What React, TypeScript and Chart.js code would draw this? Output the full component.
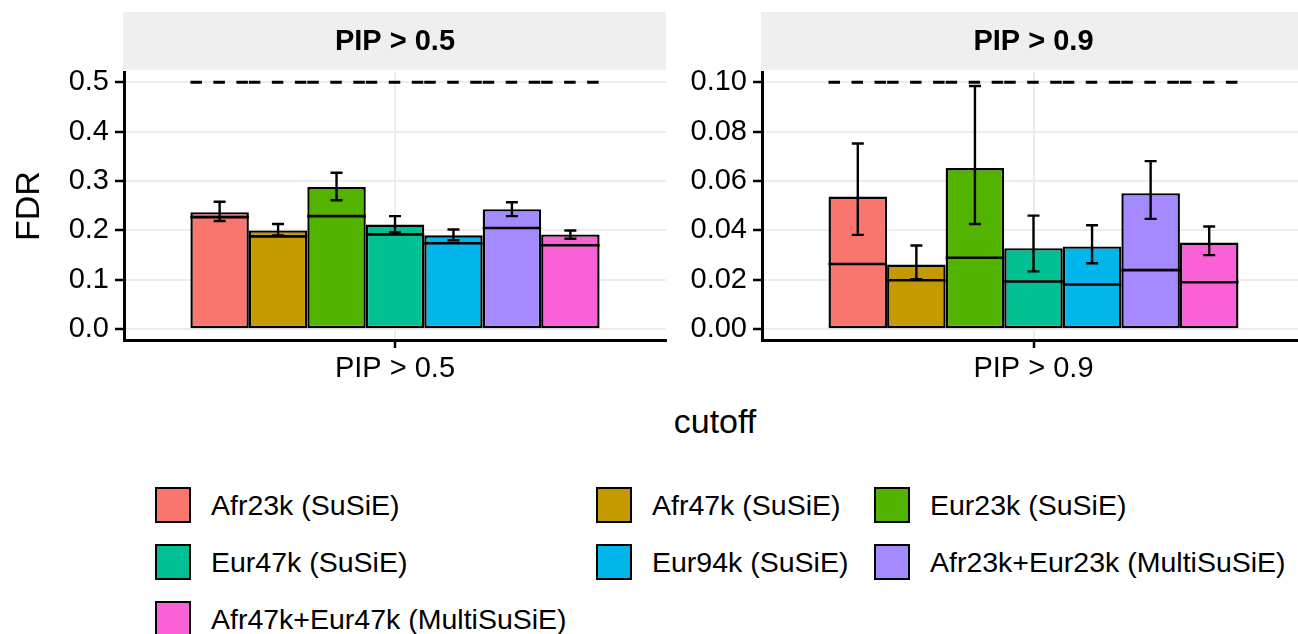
import React, { useEffect, useRef } from "react";
import { Chart, registerables } from "chart.js";

Chart.register(...registerables);

// ---------- data ----------
const methods = [
  "Afr23k (SuSiE)",
  "Afr47k (SuSiE)",
  "Eur23k (SuSiE)",
  "Eur47k (SuSiE)",
  "Eur94k (SuSiE)",
  "Afr23k+Eur23k (MultiSuSiE)",
  "Afr47k+Eur47k (MultiSuSiE)",
];
const colors = ["#F8766D", "#C49A00", "#53B400", "#00C094", "#00B6EB", "#A58AFF", "#FB61D7"];

const cutoff05 = ["PIP > 0.5"];
const fdr05 = [0.237, 0.2, 0.288, 0.212, 0.19, 0.243, 0.192];
const inner05 = [0.227, 0.188, 0.229, 0.192, 0.174, 0.205, 0.17];
const lo05 = [0.219, 0.19, 0.261, 0.196, 0.18, 0.229, 0.183];
const hi05 = [0.258, 0.213, 0.317, 0.229, 0.202, 0.257, 0.2];
const target05 = 0.5;
const ticks05 = [0, 0.1, 0.2, 0.3, 0.4, 0.5];

const cutoff09 = ["PIP > 0.9"];
const fdr09 = [0.0537, 0.0262, 0.0653, 0.0328, 0.0335, 0.0551, 0.0351];
const inner09 = [0.0264, 0.0198, 0.0289, 0.0193, 0.0181, 0.0239, 0.019];
const lo09 = [0.0382, 0.0202, 0.0426, 0.0234, 0.0267, 0.0447, 0.03];
const hi09 = [0.0752, 0.0339, 0.0985, 0.046, 0.0421, 0.0681, 0.0416];
const target09 = 0.1;
const ticks09 = [0, 0.02, 0.04, 0.06, 0.08, 0.1];

const FONT = "'Liberation Sans', Arial, Helvetica, sans-serif";

const facetPlugin = {
  id: "facetExtras",
  beforeDraw(chart: any, _args: any, opts: any) {
    const { ctx, chartArea } = chart;
    ctx.save();
    ctx.fillStyle = "#EFEFEF";
    ctx.fillRect(chartArea.left - 1, 12, chartArea.right - chartArea.left + 1, 58);
    ctx.fillStyle = "#000";
    ctx.font = `bold 29px ${FONT}`;
    ctx.textAlign = "center";
    ctx.textBaseline = "middle";
    ctx.fillText(opts.strip, (chartArea.left + chartArea.right) / 2, 42);
    ctx.restore();
  },
  afterDatasetsDraw(chart: any, _args: any, opts: any) {
    const { ctx } = chart;
    const y = chart.scales.y;
    ctx.save();
    ctx.strokeStyle = "#000";
    ctx.lineCap = "butt";
    chart.data.datasets.forEach((_ds: any, i: number) => {
      const bar = chart.getDatasetMeta(i).data[0] as any;
      const left = bar.x - bar.width / 2;
      const right = bar.x + bar.width / 2;
      // inner line
      ctx.lineWidth = 2.6;
      const yi = y.getPixelForValue(opts.inner[i]);
      ctx.beginPath();
      ctx.moveTo(left, yi);
      ctx.lineTo(right, yi);
      ctx.stroke();
      // error bar
      ctx.lineWidth = 2.4;
      const yl = y.getPixelForValue(opts.lo[i]);
      const yh = y.getPixelForValue(opts.hi[i]);
      ctx.beginPath();
      ctx.moveTo(bar.x, yl);
      ctx.lineTo(bar.x, yh);
      ctx.moveTo(bar.x - 6, yl);
      ctx.lineTo(bar.x + 6, yl);
      ctx.moveTo(bar.x - 6, yh);
      ctx.lineTo(bar.x + 6, yh);
      ctx.stroke();
      // dashed target line (one dashed segment per dodged bar)
      const yt = y.getPixelForValue(opts.target);
      ctx.lineWidth = 3;
      ctx.setLineDash([11.5, 11.5]);
      ctx.beginPath();
      ctx.moveTo(left, yt);
      ctx.lineTo(right, yt);
      ctx.stroke();
      ctx.setLineDash([]);
    });
    ctx.restore();
  },
};

function makeConfig(
  labels: string[],
  values: number[],
  inner: number[],
  lo: number[],
  hi: number[],
  target: number,
  ticks: number[],
  yMin: number,
  yMax: number,
  digits: number,
  axisWidth: number,
  padRight: number
): any {
  return {
    type: "bar",
    data: {
      labels,
      datasets: methods.map((m, i) => ({
        label: m,
        data: [values[i]],
        backgroundColor: colors[i],
        borderColor: "#000",
        borderWidth: 2.4,
        borderSkipped: false,
        categoryPercentage: 0.755,
        barPercentage: 1,
      })),
    },
    options: {
      responsive: false,
      animation: false,
      layout: { padding: { top: 72, right: padRight, bottom: 0, left: 0 } },
      plugins: {
        legend: { display: false },
        tooltip: { enabled: false },
        facetExtras: { strip: labels[0], inner, lo, hi, target },
      },
      scales: {
        x: {
          offset: true,
          grid: {
            display: true,
            offset: false,
            color: "#EDEDED",
            lineWidth: 2,
            tickColor: "#000",
            tickLength: 8,
            tickWidth: 2.5,
          },
          border: { display: true, color: "#000", width: 3 },
          ticks: { color: "#000", font: { family: FONT, size: 29 }, padding: 4 },
          afterFit: (s: any) => {
            s.height = 60;
          },
        },
        y: {
          min: yMin,
          max: yMax,
          afterBuildTicks: (a: any) => {
            a.ticks = ticks.map((v) => ({ value: v }));
          },
          grid: {
            color: "#EDEDED",
            lineWidth: 2,
            tickColor: "#000",
            tickLength: 9,
            tickWidth: 2.5,
          },
          border: { display: true, color: "#000", width: 3 },
          ticks: {
            color: "#000",
            font: { family: FONT, size: 29 },
            padding: 6,
            callback: (v: any) => Number(v).toFixed(digits),
          },
          afterFit: (s: any) => {
            s.width = axisWidth;
          },
        },
      },
    },
    plugins: [facetPlugin],
  };
}

function Panel(props: { config: any; left: number; width: number; height: number }) {
  const ref = useRef<HTMLCanvasElement>(null);
  useEffect(() => {
    const chart = new Chart(ref.current as HTMLCanvasElement, props.config);
    return () => chart.destroy();
  }, []);
  return (
    <canvas
      ref={ref}
      width={props.width}
      height={props.height}
      style={{ position: "absolute", left: props.left, top: 0, width: props.width, height: props.height }}
    />
  );
}

const legendCols = [155, 596, 874];
const legendRows = [505, 562, 619];

export default function App() {
  const cfgL = makeConfig(cutoff05, fdr05, inner05, lo05, hi05, target05, ticks05, -0.022, 0.521, 1, 124, 14);
  const cfgR = makeConfig(cutoff09, fdr09, inner09, lo09, hi09, target09, ticks09, -0.0044, 0.1042, 2, 82, 15);
  return (
    <div
      style={{
        position: "absolute",
        left: 0,
        top: 0,
        width: 1298,
        height: 634,
        overflow: "hidden",
        background: "#fff",
        fontFamily: FONT,
        color: "#000",
      }}
    >
      <Panel config={cfgL} left={0} width={680} height={400} />
      <Panel config={cfgR} left={680} width={640} height={400} />
      <div
        style={{
          position: "absolute",
          left: 27,
          top: 206,
          transform: "translate(-50%, -50%) rotate(-90deg)",
          fontSize: 34,
          whiteSpace: "nowrap",
          lineHeight: 1,
        }}
      >
        FDR
      </div>
      <div
        style={{
          position: "absolute",
          left: 715,
          top: 421,
          transform: "translate(-50%, -50%)",
          fontSize: 34,
          whiteSpace: "nowrap",
          lineHeight: 1,
        }}
      >
        cutoff
      </div>
      {methods.map((m, i) => {
        const col = i % 3;
        const row = Math.floor(i / 3);
        return (
          <div
            key={m}
            style={{
              position: "absolute",
              left: legendCols[col],
              top: legendRows[row] - 18,
              height: 36,
              display: "flex",
              alignItems: "center",
              whiteSpace: "nowrap",
            }}
          >
            <div
              style={{
                width: 32,
                height: 32,
                background: colors[i],
                border: "2px solid #000",
                boxSizing: "content-box",
              }}
            />
            <span style={{ marginLeft: 20, fontSize: 28.5, lineHeight: 1 }}>{m}</span>
          </div>
        );
      })}
    </div>
  );
}
